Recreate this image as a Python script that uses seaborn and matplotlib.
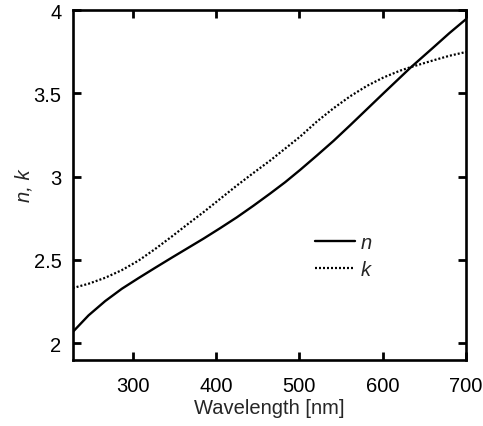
import matplotlib
matplotlib.use("Agg")
import matplotlib.pyplot as plt
import seaborn as sns
import pandas as pd

wavelength = [228, 247, 267, 287, 307, 327, 347, 365, 385, 405, 425, 445, 465, 483, 501, 521, 541, 561, 581, 601, 621, 633, 661, 680, 700]
n_vals = [2.066, 2.166, 2.252, 2.326, 2.39, 2.452, 2.513, 2.567, 2.627, 2.69, 2.755, 2.825, 2.898, 2.966, 3.04, 3.126, 3.214, 3.308, 3.404, 3.50, 3.595, 3.652, 3.776, 3.861, 3.945]
k_vals = [2.33, 2.356, 2.392, 2.438, 2.495, 2.565, 2.64, 2.71, 2.786, 2.866, 2.946, 3.022, 3.096, 3.168, 3.24, 3.33, 3.41, 3.482, 3.544, 3.595, 3.636, 3.656, 3.698, 3.725, 3.748]

df = pd.DataFrame({"wl": wavelength, "n": n_vals, "k": k_vals})

sns.set_style("ticks")
plt.rcParams["font.family"] = ["Liberation Sans", "DejaVu Sans"]

FS = 14.5
fig = plt.figure(figsize=(4.83, 4.27), dpi=100)
ax = fig.add_axes([0.1505, 0.1553, 0.8143, 0.8189])

sns.lineplot(data=df, x="wl", y="n", ax=ax, color="black", lw=1.7, label="n")
sns.lineplot(data=df, x="wl", y="k", ax=ax, color="black", lw=1.6,
             linestyle=(0, (0.9, 0.9)), label="k")

ax.set_xlim(228, 700)
ax.set_ylim(1.9, 4.0)
ax.set_xticks([300, 400, 500, 600, 700])
ax.set_yticks([2, 2.5, 3, 3.5, 4])
ax.set_yticklabels(["2", "2.5", "3", "3.5", "4"])

for s in ax.spines.values():
    s.set_linewidth(1.9)
    s.set_color("black")
ax.tick_params(direction="in", length=6, width=2, top=True, right=True,
               labelsize=FS, colors="black")
ax.tick_params(axis="x", pad=12)
ax.tick_params(axis="y", pad=8)

ax.set_xlabel("Wavelength [nm]", fontsize=FS, labelpad=2)
ax.set_ylabel("n, k", fontsize=FS, style="italic", labelpad=0)

leg = ax.legend(loc="center left", bbox_to_anchor=(0.616, 0.296), frameon=False,
                fontsize=FS, handlelength=2.0, handletextpad=0.25,
                labelspacing=0.4, borderpad=0, borderaxespad=0)
for t in leg.get_texts():
    t.set_style("italic")

fig.savefig("out.png", dpi=100)
